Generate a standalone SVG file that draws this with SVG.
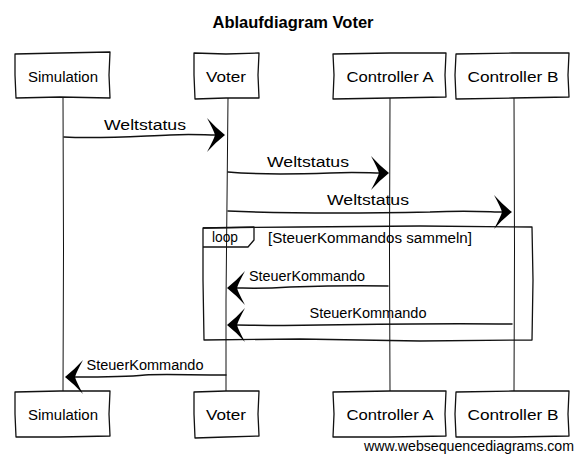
<svg xmlns="http://www.w3.org/2000/svg" xmlns:xlink="http://www.w3.org/1999/xlink" width="584" height="460" viewBox="0 0 584 460">
<style>
  .box { fill: #fff; stroke: #111; stroke-width: 1.3; stroke-linejoin: round; }
  .life { fill: none; stroke: #111; stroke-width: 1; }
  .msg { fill: none; stroke: #111; stroke-width: 1.5; stroke-linecap: round; }
  .frame { fill: none; stroke: #111; stroke-width: 1.3; stroke-linejoin: round; }
  .lbl { font-family: "Liberation Sans", Arial, sans-serif; font-size: 14px; fill: #000; text-anchor: middle; }
  .title { font-family: "Liberation Sans", Arial, sans-serif; font-size: 16px; font-weight: bold; fill: #000; text-anchor: middle; }
  .wm { font-family: "Liberation Sans", Arial, sans-serif; font-size: 14px; fill: #000; text-anchor: end; }
  .head { fill: #000; stroke: none; }
</style>
<defs>
  <path id="ah" class="head" d="M0,0 Q-9,-7 -18,-17 Q-11,-4 -10,0 Q-11,4 -18,17 Q-9,7 0,0 Z"/>
</defs>

<text class="title" x="293" y="28" textLength="161" lengthAdjust="spacingAndGlyphs">Ablaufdiagram Voter</text>

<g id="node-simulation">
  <path class="life" d="M63,98 L63.5,250 L63,391"/>
  <path class="box" d="M15,54 L60,53 L110,52 L109,75 L110,98 L60,97 L16,98 L15,75 Z"/>
  <text class="lbl" x="63" y="82" textLength="70" lengthAdjust="spacingAndGlyphs">Simulation</text>
  <path class="box" d="M15,392 L60,391 L110,391 L109,414 L110,436 L60,437 L16,437 L15,414 Z"/>
  <text class="lbl" x="63" y="420" textLength="70" lengthAdjust="spacingAndGlyphs">Simulation</text>
</g>

<g id="node-voter">
  <path class="life" d="M228,98 L227,200 L226,300 L226,391"/>
  <path class="box" d="M194,53 L226,54 L259,53 L258,75 L259,98 L226,98 L195,99 L194,75 Z"/>
  <text class="lbl" x="226" y="82" textLength="40" lengthAdjust="spacingAndGlyphs">Voter</text>
  <path class="box" d="M194,392 L226,391 L259,391 L258,414 L259,436 L226,437 L195,438 L194,414 Z"/>
  <text class="lbl" x="226" y="420" textLength="40" lengthAdjust="spacingAndGlyphs">Voter</text>
</g>

<g id="node-controller-a">
  <path class="life" d="M390,98 L389.5,250 L390,391"/>
  <path class="box" d="M333,54 L390,53 L446,53 L445,75 L446,97 L390,98 L333,99 L334,75 Z"/>
  <text class="lbl" x="390" y="82" textLength="87" lengthAdjust="spacingAndGlyphs">Controller A</text>
  <path class="box" d="M333,392 L390,391 L446,391 L445,414 L446,436 L390,437 L333,437 L334,414 Z"/>
  <text class="lbl" x="390" y="420" textLength="87" lengthAdjust="spacingAndGlyphs">Controller A</text>
</g>

<g id="node-controller-b">
  <path class="life" d="M514,98 L514.5,250 L514,391"/>
  <path class="box" d="M456,54 L512,53 L569,53 L568,75 L569,97 L512,98 L456,99 L455,75 Z"/>
  <text class="lbl" x="513" y="82" textLength="91" lengthAdjust="spacingAndGlyphs">Controller B</text>
  <path class="box" d="M456,392 L512,391 L569,391 L568,414 L569,436 L512,437 L456,437 L455,414 Z"/>
  <text class="lbl" x="513" y="420" textLength="91" lengthAdjust="spacingAndGlyphs">Controller B</text>
</g>

<g id="loop-frame">
  <path class="frame" d="M203,228 L300,227 L420,226 L532,227 L533,280 L532,340 L420,341 L300,339 L204,340 L203,280 Z"/>
  <path class="frame" d="M203,228 L254,227 L254,240 L248,247 L203,247"/>
  <text class="lbl" x="225" y="242" textLength="26" lengthAdjust="spacingAndGlyphs">loop</text>
  <text class="lbl" x="370" y="243" textLength="204" lengthAdjust="spacingAndGlyphs">[SteuerKommandos sammeln]</text>
</g>

<g id="connectors">
  <g id="msg1">
    <path class="msg" d="M64,137 C100,139 140,136 170,135 C190,134 205,135 215,135"/>
    <use xlink:href="#ah" href="#ah" transform="translate(225,135)"/>
    <text class="lbl" x="145" y="130" textLength="82" lengthAdjust="spacingAndGlyphs">Weltstatus</text>
  </g>
  <g id="msg2">
    <path class="msg" d="M228,172 C260,175 300,174 330,173 C355,172 370,173 380,173"/>
    <use xlink:href="#ah" href="#ah" transform="translate(389,173)"/>
    <text class="lbl" x="308" y="167" textLength="82" lengthAdjust="spacingAndGlyphs">Weltstatus</text>
  </g>
  <g id="msg3">
    <path class="msg" d="M228,211 C300,214 380,213 430,212 C470,210 490,212 503,212"/>
    <use xlink:href="#ah" href="#ah" transform="translate(512,212)"/>
    <text class="lbl" x="368" y="205" textLength="82" lengthAdjust="spacingAndGlyphs">Weltstatus</text>
  </g>
  <g id="msg4">
    <path class="msg" d="M388,286 C350,285 320,286 290,287 C260,289 245,288 236,288"/>
    <use xlink:href="#ah" href="#ah" transform="translate(227,288) scale(-1,1)"/>
    <text class="lbl" x="307" y="281" textLength="116" lengthAdjust="spacingAndGlyphs">SteuerKommando</text>
  </g>
  <g id="msg5">
    <path class="msg" d="M512,324 C450,323 380,324 320,325 C280,326 250,325 236,325"/>
    <use xlink:href="#ah" href="#ah" transform="translate(227,325) scale(-1,1)"/>
    <text class="lbl" x="368" y="318" textLength="117" lengthAdjust="spacingAndGlyphs">SteuerKommando</text>
  </g>
  <g id="msg6">
    <path class="msg" d="M226,375 C190,375 160,374 145,375 C125,377 100,377 74,377"/>
    <use xlink:href="#ah" href="#ah" transform="translate(65,377) scale(-1,1)"/>
    <text class="lbl" x="145" y="370" textLength="117" lengthAdjust="spacingAndGlyphs">SteuerKommando</text>
  </g>
</g>

<text class="wm" x="574" y="451" textLength="210" lengthAdjust="spacingAndGlyphs">www.websequencediagrams.com</text>
</svg>
